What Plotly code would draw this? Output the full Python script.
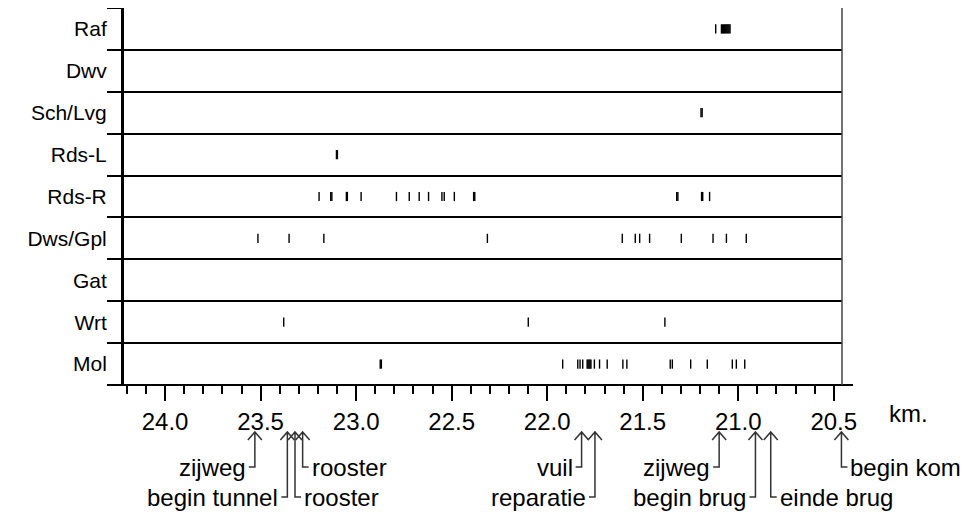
import plotly.graph_objects as go

# rows from top to bottom
categories = ["Raf", "Dwv", "Sch/Lvg", "Rds-L", "Rds-R", "Dws/Gpl", "Gat", "Wrt", "Mol"]

# observed positions (km) per row
raf = [21.118, 21.088, 21.083, 21.078, 21.073, 21.068, 21.063, 21.058, 21.053,
       21.048, 21.043]
dwv = []
sch_lvg = [21.195, 21.189]
rds_l = [23.103, 23.098]
rds_r = [23.194, 23.133, 23.127, 23.051, 23.046, 22.974, 22.789, 22.722, 22.670,
         22.621, 22.551, 22.539, 22.486, 22.385, 22.379, 21.322, 21.316, 21.192,
         21.186, 21.150]
dws_gpl = [23.514, 23.351, 23.169, 22.313, 21.607, 21.539, 21.516, 21.464, 21.298,
           21.132, 21.062, 20.958]
gat = []
wrt = [23.379, 22.099, 21.384]
mol = [22.874, 22.868, 21.919, 21.840, 21.828, 21.814, 21.791, 21.786, 21.781,
       21.776, 21.771, 21.753, 21.726, 21.686, 21.604, 21.583, 21.356, 21.345,
       21.249, 21.162, 21.031, 21.010, 20.966]
rows = [raf, dwv, sch_lvg, rds_l, rds_r, dws_gpl, gat, wrt, mol]

# landmarks along the road (km)
landmarks = ["zijweg", "begin tunnel", "rooster", "rooster", "vuil", "reparatie",
             "zijweg", "begin brug", "einde brug", "begin kom"]
landmark_km = [23.53, 23.36, 23.32, 23.28, 21.82, 21.75, 21.10, 20.91, 20.83, 20.46]

# label placement: text row (1 or 2) and side of the leader line
label_row = [1, 2, 2, 1, 1, 2, 1, 2, 2, 1]
label_side = ["left", "left", "right", "right", "left", "left", "left", "left", "right", "right"]

FONT = "Arial, Liberation Sans, sans-serif"
FS = 24
x_range = [24.215, 20.457]
PW = 718  # plot width in px
n = len(categories)

fig = go.Figure()
for i, vals in enumerate(rows):
    fig.add_trace(go.Scatter(
        x=vals, y=[n - 0.5 - i] * len(vals), mode="markers",
        marker=dict(symbol="line-ns", size=6.6, color="black",
                    line=dict(width=1.4, color="black")),
        showlegend=False, hoverinfo="x"))


def py(Y):
    # page pixel row -> paper y (plot area spans page rows 8..385)
    return (385 - Y) / 377


def pxp(km):
    # km -> paper x
    return (x_range[0] - km) / (x_range[0] - x_range[1])


tip, arm = py(432), py(440)
levels = {1: py(467), 2: py(497)}
half = 7 / PW
stub = 6 / PW
shapes = []
for name, km, row, side in zip(landmarks, landmark_km, label_row, label_side):
    yl = levels[row]
    x = pxp(km)
    end = x - stub if side == "left" else x + stub
    shapes.append(dict(
        type="path", xref="paper", yref="paper",
        path=f"M{x - half},{arm} L{x},{tip} L{x + half},{arm} "
             f"M{x},{tip} L{x},{yl} L{end},{yl}",
        line=dict(color="#333", width=1.5)))
    fig.add_annotation(
        x=end + (-1 / PW if side == "left" else 1 / PW),
        y=yl, xref="paper", yref="paper", text=name, showarrow=False,
        xanchor="right" if side == "left" else "left", yanchor="middle",
        font=dict(family=FONT, size=FS, color="black"))

# extended x axis line and right border
shapes.append(dict(type="line", xref="paper", yref="paper",
                   x0=-16 / PW, x1=1 + 11 / PW, y0=0, y1=0,
                   line=dict(color="black", width=2)))
shapes.append(dict(type="line", xref="paper", yref="paper",
                   x0=1, x1=1, y0=0, y1=1,
                   line=dict(color="#444", width=1.5)))

fig.add_annotation(x=1 + 66 / PW, y=py(413), xref="paper", yref="paper",
                   text="km.", showarrow=False, xanchor="center", yanchor="middle",
                   font=dict(family=FONT, size=FS, color="black"))

# the page adds an 8px body margin, so the figure is drawn 8px smaller
fig.update_layout(
    width=966, height=510,
    margin=dict(l=116, r=132, t=0, b=133, autoexpand=False),
    plot_bgcolor="white", paper_bgcolor="white",
    shapes=shapes,
    font=dict(family=FONT, size=FS, color="black"),
    xaxis=dict(range=x_range, tickmode="linear", tick0=20.5, dtick=0.5,
               tickformat=".1f", ticks="outside", ticklen=15, tickwidth=2,
               tickcolor="black", showline=False, showgrid=False, zeroline=False,
               tickfont=dict(family=FONT, size=FS),
               minor=dict(dtick=0.1, tick0=20.5, ticks="outside", ticklen=8,
                          tickwidth=2, tickcolor="black", showgrid=False)),
    yaxis=dict(range=[0, n], tickmode="array",
               tickvals=[n - 0.5 - i for i in range(n)], ticktext=categories,
               ticks="outside", ticklen=10, tickcolor="rgba(0,0,0,0)",
               showline=True, linewidth=3, linecolor="black",
               showgrid=False, zeroline=False,
               tickfont=dict(family=FONT, size=21),
               minor=dict(tickmode="array", tickvals=list(range(n + 1)),
                          ticks="outside", ticklen=14, tickwidth=2,
                          tickcolor="black", showgrid=True,
                          gridcolor="black", gridwidth=2)),
)

fig.write_html("out.html")
